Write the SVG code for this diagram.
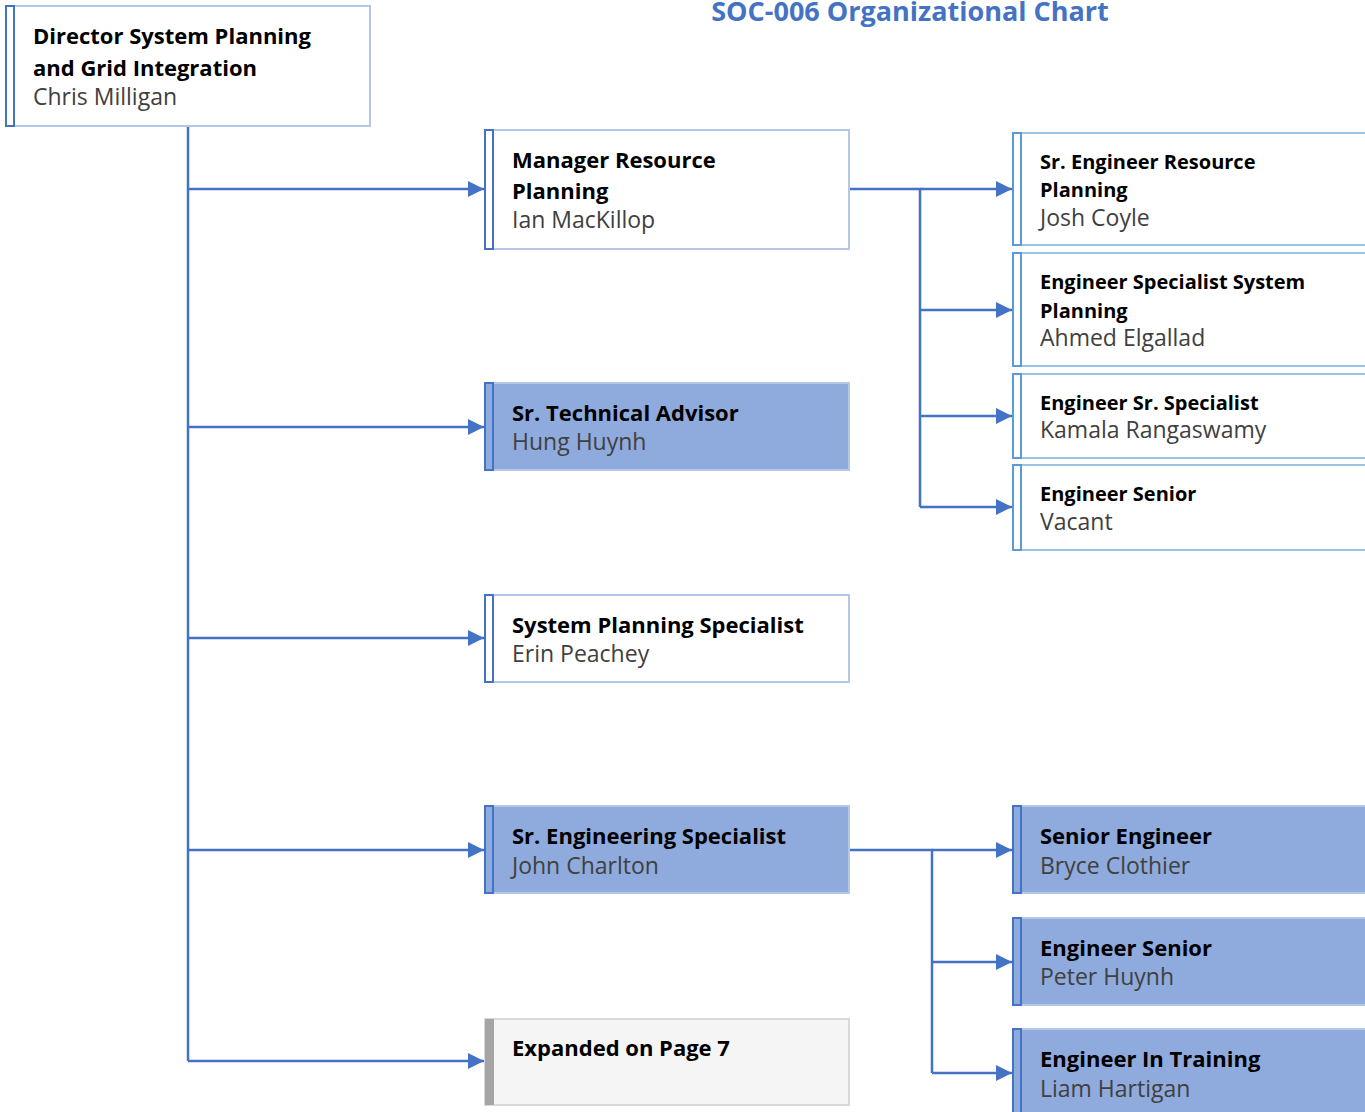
<svg xmlns="http://www.w3.org/2000/svg" width="1365" height="1112" viewBox="0 0 1365 1112">
<style>
text{font-family:"Open Sans","Noto Sans","Liberation Sans",sans-serif}
.t{font-weight:bold;fill:#000;font-size:22px}
.n{fill:#404040;font-size:23px}
.ts{font-weight:bold;fill:#000;font-size:20px}
.ns{fill:#404040;font-size:23px}
.title{font-weight:bold;fill:#4472C4;font-size:27px}
.bw{fill:#fff;stroke:#B4C7E7;stroke-width:2}
.bb{fill:#8FAADC;stroke:#B4C7E7;stroke-width:2}
.bwr{fill:#fff;stroke:#9DC3E6;stroke-width:2}
.barw{fill:#fff;stroke:#4472C4;stroke-width:2}
.barb{fill:#8FAADC;stroke:#4472C4;stroke-width:2}
.barr{fill:#fff;stroke:#5B9BD5;stroke-width:2}
.c{fill:none;stroke:#4472C4;stroke-width:2.5}
</style>
<defs>
<marker id="a" viewBox="0 0 16 16" refX="16" refY="8" markerWidth="16" markerHeight="16" markerUnits="userSpaceOnUse" orient="auto">
<path d="M0,0 L16,8 L0,16 z" fill="#4472C4"/>
</marker>
</defs>
<text class="title" x="910" y="21" text-anchor="middle">SOC-006 Organizational Chart</text>
<g id="connectors">
<path class="c" d="M188,126 V1061"/>
<path class="c" d="M188,189 H484" marker-end="url(#a)"/>
<path class="c" d="M188,427 H484" marker-end="url(#a)"/>
<path class="c" d="M188,638 H484" marker-end="url(#a)"/>
<path class="c" d="M188,850 H484" marker-end="url(#a)"/>
<path class="c" d="M188,1061 H484" marker-end="url(#a)"/>
<path class="c" d="M849,189 H920 V507"/>
<path class="c" d="M920,189 H1012" marker-end="url(#a)"/>
<path class="c" d="M920,310 H1012" marker-end="url(#a)"/>
<path class="c" d="M920,416 H1012" marker-end="url(#a)"/>
<path class="c" d="M920,507 H1012" marker-end="url(#a)"/>
<path class="c" d="M849,850 H932 V1073"/>
<path class="c" d="M932,850 H1012" marker-end="url(#a)"/>
<path class="c" d="M932,962 H1012" marker-end="url(#a)"/>
<path class="c" d="M932,1073 H1012" marker-end="url(#a)"/>
</g>
<g id="director">
<rect class="bw" x="6" y="6" width="364" height="120"/>
<rect class="barw" x="6" y="6" width="8" height="120"/>
<text class="t" x="33" y="44">Director System Planning</text>
<text class="t" x="33" y="76">and Grid Integration</text>
<text class="n" x="33" y="105">Chris Milligan</text>
</g>
<g id="manager">
<rect class="bw" x="485" y="130" width="364" height="119"/>
<rect class="barw" x="485" y="130" width="8" height="119"/>
<text class="t" x="512" y="168">Manager Resource</text>
<text class="t" x="512" y="199">Planning</text>
<text class="n" x="512" y="228">Ian MacKillop</text>
</g>
<g id="techadvisor">
<rect class="bb" x="485" y="383" width="364" height="87"/>
<rect class="barb" x="485" y="383" width="8" height="87"/>
<text class="t" x="512" y="421">Sr. Technical Advisor</text>
<text class="n" x="512" y="450">Hung Huynh</text>
</g>
<g id="spspecialist">
<rect class="bw" x="485" y="595" width="364" height="87"/>
<rect class="barw" x="485" y="595" width="8" height="87"/>
<text class="t" x="512" y="633">System Planning Specialist</text>
<text class="n" x="512" y="662">Erin Peachey</text>
</g>
<g id="engspecialist">
<rect class="bb" x="485" y="806" width="364" height="87"/>
<rect class="barb" x="485" y="806" width="8" height="87"/>
<text class="t" x="512" y="844">Sr. Engineering Specialist</text>
<text class="n" x="512" y="874">John Charlton</text>
</g>
<g id="expanded">
<rect x="485" y="1019" width="364" height="86" fill="#F5F5F5" stroke="#D9D9D9" stroke-width="2"/>
<rect x="485" y="1019" width="9" height="86" fill="#A5A5A5"/>
<text class="t" x="512" y="1056">Expanded on Page 7</text>
</g>
<g id="srengrp">
<rect class="bwr" x="1013" y="133" width="360" height="112"/>
<rect class="barr" x="1013" y="133" width="8" height="112"/>
<text class="ts" x="1040" y="169">Sr. Engineer Resource</text>
<text class="ts" x="1040" y="197">Planning</text>
<text class="ns" x="1040" y="226">Josh Coyle</text>
</g>
<g id="engspecsp">
<rect class="bwr" x="1013" y="253" width="360" height="113"/>
<rect class="barr" x="1013" y="253" width="8" height="113"/>
<text class="ts" x="1040" y="289">Engineer Specialist System</text>
<text class="ts" x="1040" y="318">Planning</text>
<text class="ns" x="1040" y="346">Ahmed Elgallad</text>
</g>
<g id="engsrspec">
<rect class="bwr" x="1013" y="374" width="360" height="84"/>
<rect class="barr" x="1013" y="374" width="8" height="84"/>
<text class="ts" x="1040" y="410">Engineer Sr. Specialist</text>
<text class="ns" x="1040" y="438">Kamala Rangaswamy</text>
</g>
<g id="engsenior1">
<rect class="bwr" x="1013" y="465" width="360" height="85"/>
<rect class="barr" x="1013" y="465" width="8" height="85"/>
<text class="ts" x="1040" y="501">Engineer Senior</text>
<text class="ns" x="1040" y="530">Vacant</text>
</g>
<g id="senioreng">
<rect class="bb" x="1013" y="806" width="360" height="87"/>
<rect class="barb" x="1013" y="806" width="8" height="87"/>
<text class="t" x="1040" y="844">Senior Engineer</text>
<text class="n" x="1040" y="874">Bryce Clothier</text>
</g>
<g id="engsenior2">
<rect class="bb" x="1013" y="918" width="360" height="87"/>
<rect class="barb" x="1013" y="918" width="8" height="87"/>
<text class="t" x="1040" y="956">Engineer Senior</text>
<text class="n" x="1040" y="985">Peter Huynh</text>
</g>
<g id="eit">
<rect class="bb" x="1013" y="1029" width="360" height="90"/>
<rect class="barb" x="1013" y="1029" width="8" height="90"/>
<text class="t" x="1040" y="1067">Engineer In Training</text>
<text class="n" x="1040" y="1097">Liam Hartigan</text>
</g>
</svg>
